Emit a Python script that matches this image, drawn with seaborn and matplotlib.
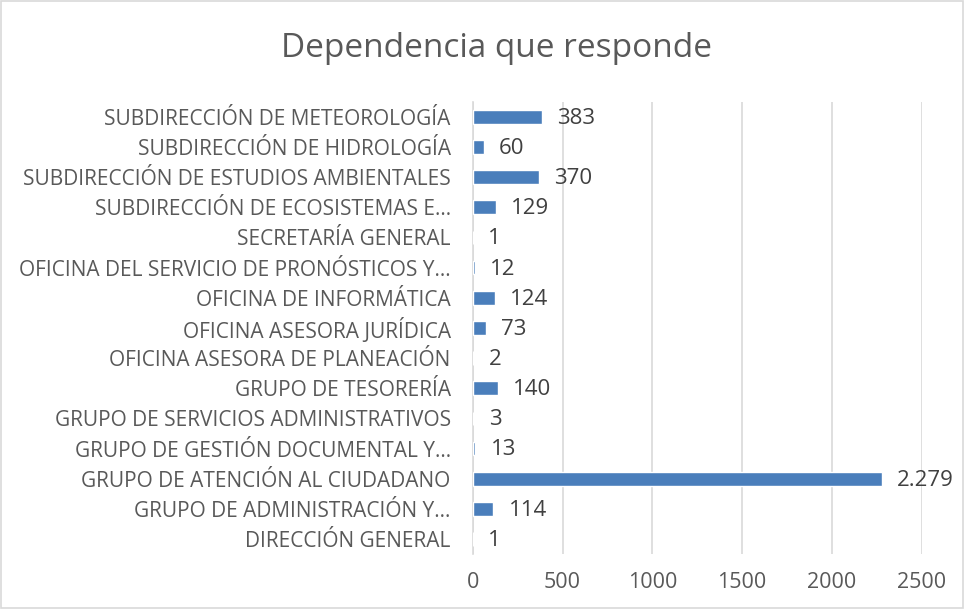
import seaborn as sns
import matplotlib.pyplot as plt
import pandas as pd
from matplotlib.patches import Rectangle

dependencias = [
    "SUBDIRECCIÓN DE METEOROLOGÍA",
    "SUBDIRECCIÓN DE HIDROLOGÍA",
    "SUBDIRECCIÓN DE ESTUDIOS AMBIENTALES",
    "SUBDIRECCIÓN DE ECOSISTEMAS E…",
    "SECRETARÍA GENERAL",
    "OFICINA DEL SERVICIO DE PRONÓSTICOS Y…",
    "OFICINA DE INFORMÁTICA",
    "OFICINA ASESORA JURÍDICA",
    "OFICINA ASESORA DE PLANEACIÓN",
    "GRUPO DE TESORERÍA",
    "GRUPO DE SERVICIOS ADMINISTRATIVOS",
    "GRUPO DE GESTIÓN DOCUMENTAL Y…",
    "GRUPO DE ATENCIÓN AL CIUDADANO",
    "GRUPO DE ADMINISTRACIÓN Y…",
    "DIRECCIÓN GENERAL",
]
respuestas = [383, 60, 370, 129, 1, 12, 124, 73, 2, 140, 3, 13, 2279, 114, 1]
ticks_x = [0, 500, 1000, 1500, 2000, 2500]

df = pd.DataFrame({"dependencia": dependencias, "n": respuestas})

sns.set_theme(style="white")
plt.rcParams['font.family'] = ['Open Sans', 'DejaVu Sans']

fig = plt.figure(figsize=(9.65, 6.09), dpi=100)
ax = fig.add_axes([0.490, 0.090, 0.465, 0.743])

sns.barplot(data=df, x="n", y="dependencia", color="#4a7ebb", saturation=1,
            width=0.45, ax=ax, zorder=3)

ax.set_xlim(0, 2500)
ax.set_xticks(ticks_x)
ax.set_xticklabels([str(t) for t in ticks_x])
ax.grid(axis="x", color="#d9d9d9", linewidth=1.2, zorder=0)
for s in ["top", "right", "bottom"]:
    ax.spines[s].set_visible(False)
ax.spines["left"].set_color("#d9d9d9")
ax.spines["left"].set_linewidth(1.2)
ax.tick_params(axis="y", length=0, labelsize=15, colors="#595959", pad=16)
ax.tick_params(axis="x", length=0, labelsize=15.5, colors="#595959", pad=13)
ax.set_xlabel("")
ax.set_ylabel("")

for i, v in enumerate(respuestas):
    etiqueta = f"{v:,}".replace(",", ".")
    ax.annotate(etiqueta, (v, i), xytext=(11, -1), textcoords="offset points",
                va="center", ha="left", fontsize=16, color="#404040")

fig.text(0.515, 0.921, "Dependencia que responde", ha="center", va="center",
         fontsize=24, color="#595959")

fig.patches.append(Rectangle((0.001, 0.001), 0.997, 0.997, transform=fig.transFigure,
                             fill=False, edgecolor="#d9d9d9", linewidth=1.2))

plt.savefig("out.png", dpi=100)
